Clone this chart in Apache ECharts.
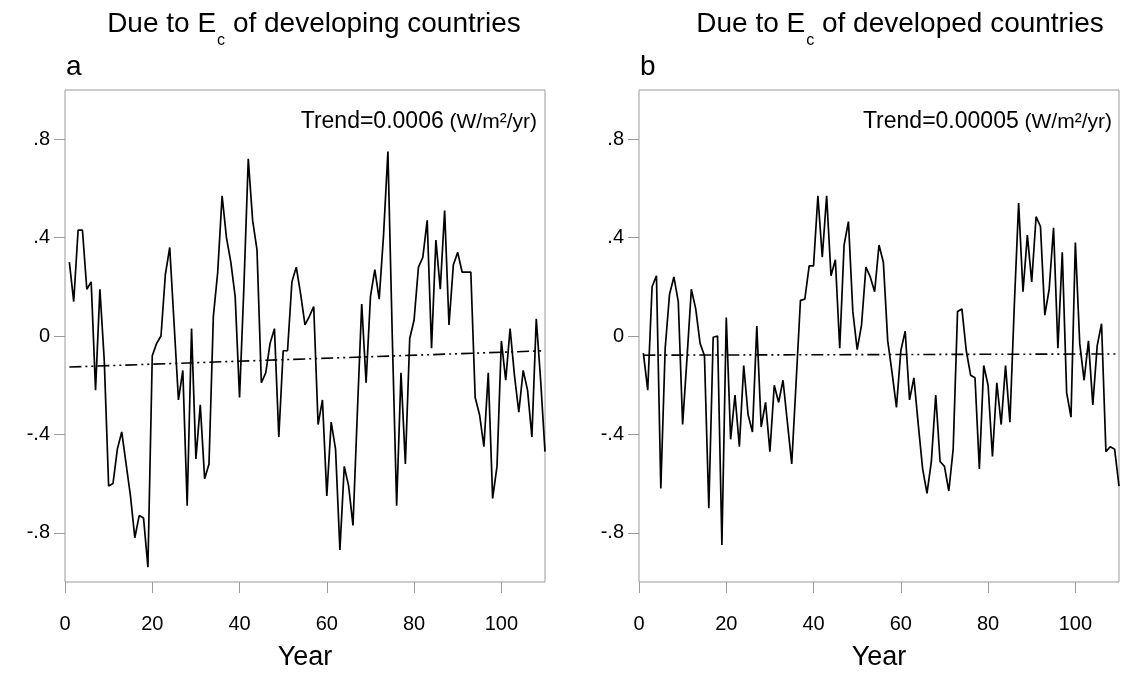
<!DOCTYPE html>
<html><head><meta charset="utf-8">
<script src="https://cdn.jsdelivr.net/npm/echarts@6/dist/echarts.min.js"></script>
<style>html,body{margin:0;padding:0;background:#fff}#c{width:1123px;height:675px}</style>
</head><body><div id="c"></div>
<script>
const years = [1,2,3,4,5,6,7,8,9,10,11,12,13,14,15,16,17,18,19,20,21,22,23,24,25,26,27,28,29,30,
31,32,33,34,35,36,37,38,39,40,41,42,43,44,45,46,47,48,49,50,51,52,53,54,55,56,57,58,59,60,
61,62,63,64,65,66,67,68,69,70,71,72,73,74,75,76,77,78,79,80,81,82,83,84,85,86,87,88,89,90,
91,92,93,94,95,96,97,98,99,100,101,102,103,104,105,106,107,108,109,110];

const valuesA = [0.30,0.14,0.43,0.43,0.19,0.22,-0.22,0.19,-0.10,-0.61,
-0.60,-0.46,-0.39,-0.52,-0.65,-0.82,-0.73,-0.74,-0.94,-0.08,
-0.03,0.00,0.25,0.36,0.05,-0.26,-0.14,-0.69,0.03,-0.50,
-0.28,-0.58,-0.52,0.08,0.26,0.57,0.40,0.30,0.16,-0.25,
0.20,0.72,0.47,0.35,-0.19,-0.15,-0.03,0.03,-0.41,-0.06,
-0.06,0.22,0.28,0.17,0.045,0.08,0.12,-0.36,-0.26,-0.65,
-0.35,-0.46,-0.87,-0.53,-0.61,-0.77,-0.31,0.13,-0.19,0.16,
0.27,0.15,0.41,0.75,0.00,-0.69,-0.15,-0.52,-0.01,0.065,
0.28,0.32,0.47,-0.05,0.39,0.19,0.51,0.045,0.29,0.34,
0.26,0.26,0.26,-0.25,-0.32,-0.45,-0.15,-0.66,-0.53,-0.02,
-0.18,0.03,-0.16,-0.31,-0.14,-0.22,-0.41,0.07,-0.18,-0.47];

const valuesB = [-0.07,-0.22,0.20,0.245,-0.62,-0.05,0.17,0.24,0.14,-0.36,
-0.09,0.19,0.11,-0.03,-0.08,-0.70,-0.005,0.00,-0.85,0.075,
-0.42,-0.24,-0.45,-0.12,-0.32,-0.39,0.04,-0.37,-0.27,-0.47,
-0.20,-0.27,-0.18,-0.35,-0.52,-0.19,0.145,0.15,0.285,0.285,
0.57,0.32,0.57,0.245,0.31,-0.05,0.37,0.465,0.10,-0.055,
0.045,0.28,0.24,0.18,0.37,0.30,-0.02,-0.15,-0.29,-0.06,
0.02,-0.26,-0.17,-0.36,-0.54,-0.64,-0.51,-0.24,-0.51,-0.53,
-0.63,-0.46,0.10,0.11,-0.06,-0.16,-0.17,-0.54,-0.12,-0.20,
-0.49,-0.19,-0.36,-0.12,-0.35,0.12,0.54,0.18,0.41,0.22,
0.485,0.445,0.085,0.19,0.44,-0.05,0.34,-0.23,-0.33,0.38,
-0.03,-0.18,-0.02,-0.28,-0.04,0.05,-0.47,-0.45,-0.46,-0.61];

const trendA = [[1,-0.126],[110,-0.060]];
const trendB = [[1,-0.078],[110,-0.073]];

const xTicks = [0,20,40,60,80,100];
const yTicks = [-0.8,-0.4,0,0.4,0.8];
const panelTitles = ['of developing countries','of developed countries'];
const panelLetters = ['a','b'];
const trendValues = ['0.0006','0.00005'];
const xName = 'Year';

const FONT = 'Liberation Sans, Arial, Helvetica, sans-serif';
const grids = [
  {left:65, top:90, width:480, height:492},
  {left:639, top:90, width:480, height:492}
];

function yFmt(v){
  if (Math.abs(v) < 1e-9) return '0';
  const s = Math.abs(v).toFixed(1).replace(/^0/, '');
  return (v < 0 ? '-' : '') + s;
}

const chart = echarts.init(document.getElementById('c'), null, {renderer:'canvas'});

const option = {
  backgroundColor:'#fff',
  animation:false,
  grid: grids.map(g => Object.assign({show:true, borderColor:'#9a9a9a', borderWidth:1, backgroundColor:'transparent', containLabel:false, outerBoundsMode:'none'}, g)),
  xAxis: [0,1].map(i => ({
    type:'value', gridIndex:i, min:0, max:110, position:'bottom',
    axisLine:{show:false, onZero:false},
    axisTick:{show:true, length:11, customValues:xTicks, lineStyle:{color:'#9a9a9a', width:1}},
    axisLabel:{customValues:xTicks, fontSize:20, fontFamily:FONT, color:'#000', margin:32},
    splitLine:{show:false},
    name:xName, nameLocation:'middle', nameGap:62,
    nameTextStyle:{fontSize:27, fontFamily:FONT, color:'#000'}
  })),
  yAxis: [0,1].map(i => ({
    type:'value', gridIndex:i, min:-1, max:1, position:'left',
    axisLine:{show:false, onZero:false},
    axisTick:{show:true, length:11, customValues:yTicks, lineStyle:{color:'#9a9a9a', width:1}},
    axisLabel:{customValues:yTicks, formatter:yFmt, fontSize:20, fontFamily:FONT, color:'#000', margin:15},
    splitLine:{show:false}
  })),
  series: [
    {type:'line', xAxisIndex:0, yAxisIndex:0, data: years.map((y,i)=>[y, valuesA[i]]),
     showSymbol:false, lineStyle:{color:'#000', width:1.7}, z:3},
    {type:'line', xAxisIndex:0, yAxisIndex:0, data: trendA,
     showSymbol:false, lineStyle:{color:'#000', width:1.6, type:[12,4,2,4,2,4]}, z:2},
    {type:'line', xAxisIndex:1, yAxisIndex:1, data: years.map((y,i)=>[y, valuesB[i]]),
     showSymbol:false, lineStyle:{color:'#000', width:1.7}, z:3},
    {type:'line', xAxisIndex:1, yAxisIndex:1, data: trendB,
     showSymbol:false, lineStyle:{color:'#000', width:1.6, type:[12,4,2,4,2,4]}, z:2}
  ],
  graphic: []
};

const titleCenters = [314, 900];
const letterX = [66, 640];
const trendRight = [537, 1112];
[0,1].forEach(i => {
  option.graphic.push({
    type:'text', x:titleCenters[i], y:10, z:10,
    style:{
      text:'{m|Due to E}{s|c}{m| ' + panelTitles[i] + '}',
      align:'center', verticalAlign:'top',
      rich:{
        m:{fontSize:28, fontFamily:FONT, fill:'#000', lineHeight:32, verticalAlign:'top'},
        s:{fontSize:16, fontFamily:FONT, fill:'#000', lineHeight:16, padding:[23,0,0,1], verticalAlign:'top'}
      }
    }
  });
  option.graphic.push({
    type:'text', x:letterX[i], y:67, z:10,
    style:{text:panelLetters[i], fontSize:28, fontFamily:FONT, fill:'#000', align:'left', verticalAlign:'middle'}
  });
  option.graphic.push({
    type:'text', x:trendRight[i], y:122, z:10,
    style:{
      text:'{t|Trend=' + trendValues[i] + '}{u| (W/m\u00B2/yr)}',
      align:'right', verticalAlign:'middle',
      rich:{
        t:{fontSize:23, fontFamily:FONT, fill:'#000'},
        u:{fontSize:21, fontFamily:FONT, fill:'#000'}
      }
    }
  });
});

chart.setOption(option);
</script>
</body></html>
